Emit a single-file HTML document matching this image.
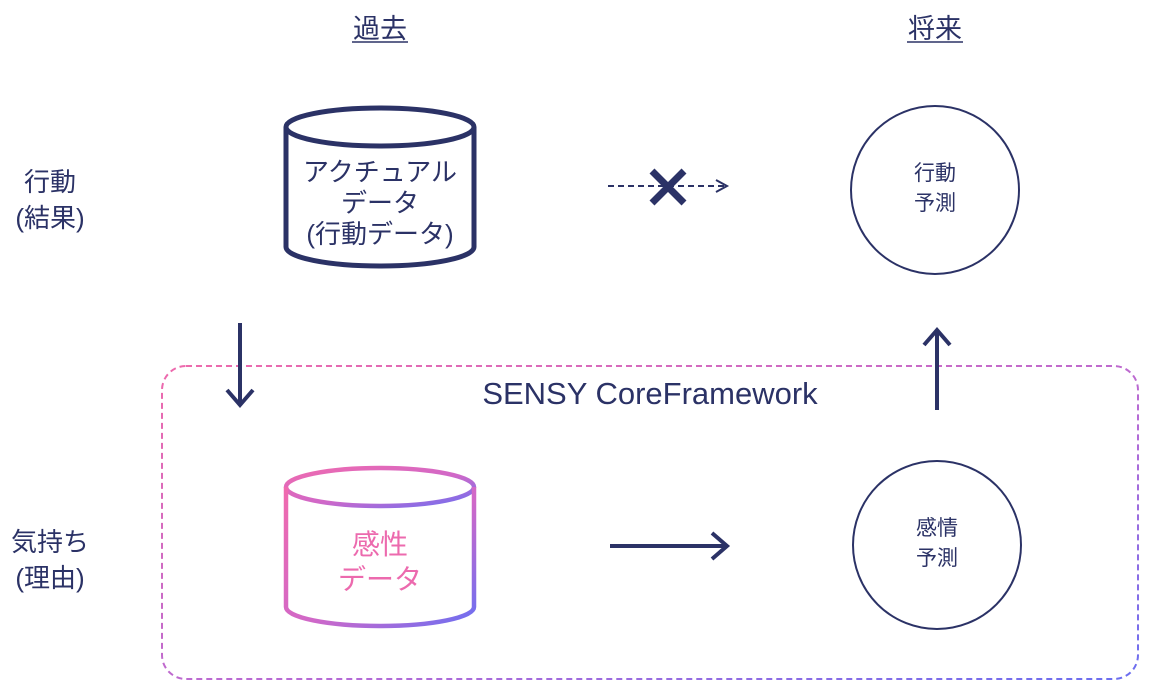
<!DOCTYPE html>
<html><head><meta charset="utf-8"><style>
html,body{margin:0;padding:0;background:#fff;}
svg{display:block;}
text{font-family:"Liberation Sans","Noto Sans CJK JP",sans-serif;}
</style></head><body>
<svg width="1157" height="693" viewBox="0 0 1157 693" xmlns="http://www.w3.org/2000/svg">
<defs>
<linearGradient id="g" x1="0" y1="0" x2="1" y2="1">
<stop offset="0" stop-color="#f06aae"/><stop offset="0.55" stop-color="#d068c8"/><stop offset="1" stop-color="#6b6ff2"/>
</linearGradient>
<linearGradient id="gb" x1="0" y1="0" x2="1" y2="1">
<stop offset="0" stop-color="#ee6aac"/><stop offset="0.6" stop-color="#b46ad6"/><stop offset="1" stop-color="#6a6ef0"/>
</linearGradient>
</defs>
<g fill="#2b3266" font-size="27">
<text x="380" y="38" text-anchor="middle">過去</text>
<text x="935" y="38" text-anchor="middle">将来</text>
</g>
<line x1="352" y1="42" x2="408" y2="42" stroke="#2b3266" stroke-width="1.5"/>
<line x1="907" y1="42" x2="963" y2="42" stroke="#2b3266" stroke-width="1.5"/>
<g fill="#2b3266" font-size="26" text-anchor="middle">
<text x="50" y="191">行動</text>
<text x="50" y="227">(結果)</text>
<text x="50" y="551">気持ち</text>
<text x="50" y="587">(理由)</text>
</g>
<!-- cylinder 1 -->
<g fill="none" stroke="#2b3266" stroke-width="5">
<ellipse cx="380" cy="127" rx="94" ry="19"/>
<path d="M286 127 V247 A94 19 0 0 0 474 247 V127"/>
</g>
<g fill="#2b3266" font-size="26" text-anchor="middle">
<text x="380" y="181">アクチュアル</text>
<text x="380" y="212">データ</text>
<text x="380" y="243">(行動データ)</text>
</g>
<!-- dashed arrow with X -->
<line x1="608" y1="186" x2="726" y2="186" stroke="#2b3266" stroke-width="2" stroke-dasharray="6,4"/>
<path d="M716 180 L727 186 L716 192" fill="none" stroke="#2b3266" stroke-width="2"/>
<path d="M652 171 L684 203 M684 171 L652 203" stroke="#2b3266" stroke-width="7"/>
<!-- circles -->
<circle cx="935" cy="190" r="84" fill="none" stroke="#2b3266" stroke-width="2"/>
<g fill="#2b3266" font-size="21" text-anchor="middle">
<text x="935" y="180">行動</text>
<text x="935" y="210">予測</text>
</g>
<circle cx="937" cy="545" r="84" fill="none" stroke="#2b3266" stroke-width="2"/>
<g fill="#2b3266" font-size="21" text-anchor="middle">
<text x="937" y="535">感情</text>
<text x="937" y="565">予測</text>
</g>
<!-- dashed box -->
<rect x="162" y="366" width="976" height="313" rx="24" fill="none" stroke="url(#gb)" stroke-width="2" stroke-dasharray="6,4"/>
<text x="650" y="404" fill="#2b3266" font-size="31" text-anchor="middle">SENSY CoreFramework</text>
<!-- arrows -->
<g stroke="#2b3266" stroke-width="4" fill="none">
<line x1="240" y1="323" x2="240" y2="405"/>
<path d="M227 390 L240 405 L253 390"/>
<line x1="937" y1="410" x2="937" y2="330"/>
<path d="M924 345 L937 330 L950 345"/>
<line x1="610" y1="546" x2="727" y2="546"/>
<path d="M712 533 L727 546 L712 559"/>
</g>
<!-- cylinder 2 -->
<g fill="none" stroke="url(#g)" stroke-width="4.5">
<ellipse cx="380" cy="487" rx="94" ry="19"/>
<path d="M286 487 V607 A94 19 0 0 0 474 607 V487"/>
</g>
<g fill="#ec6aae" font-size="28" text-anchor="middle">
<text x="380" y="554">感性</text>
<text x="380" y="589">データ</text>
</g>
</svg>
</body></html>
